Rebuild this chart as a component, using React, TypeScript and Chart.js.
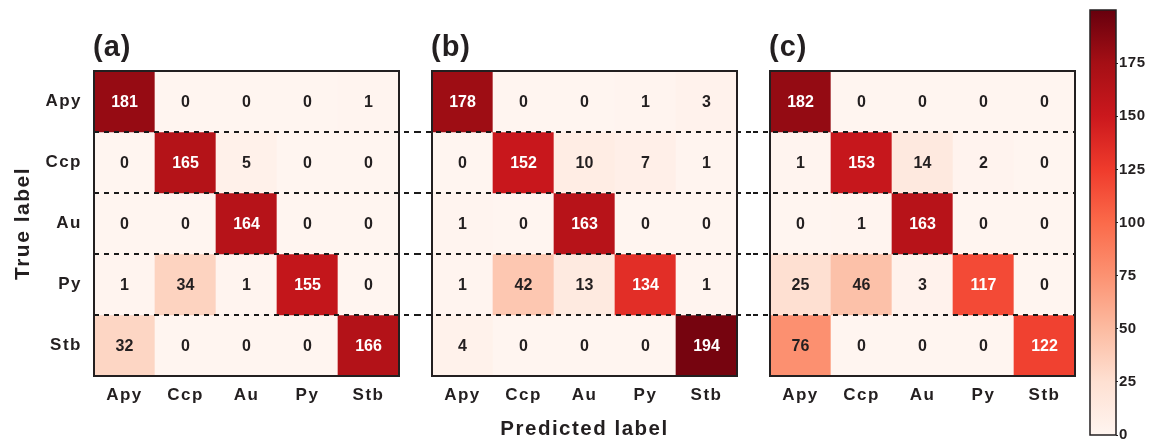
import React, { useEffect, useRef } from "react";
import { Chart, registerables } from "chart.js";

Chart.register(...registerables);

// ---------------- data ----------------
const predictedLabels = ["Apy", "Ccp", "Au", "Py", "Stb"];
const trueLabels = ["Apy", "Ccp", "Au", "Py", "Stb"];

const matrixA = [
  [181, 0, 0, 0, 1],
  [0, 165, 5, 0, 0],
  [0, 0, 164, 0, 0],
  [1, 34, 1, 155, 0],
  [32, 0, 0, 0, 166],
];
const matrixB = [
  [178, 0, 0, 1, 3],
  [0, 152, 10, 7, 1],
  [1, 0, 163, 0, 0],
  [1, 42, 13, 134, 1],
  [4, 0, 0, 0, 194],
];
const matrixC = [
  [182, 0, 0, 0, 0],
  [1, 153, 14, 2, 0],
  [0, 1, 163, 0, 0],
  [25, 46, 3, 117, 0],
  [76, 0, 0, 0, 122],
];
const panelTitles = ["(a)", "(b)", "(c)"];
const colorbarRange = [0, 200];
const colorbarTicks = [0, 25, 50, 75, 100, 125, 150, 175];
const whiteTextThreshold = 100;

// matplotlib "Reds"
const REDS = ["#fff5f0", "#fee0d2", "#fcbba1", "#fc9272", "#fb6a4a", "#ef3b2c", "#cb181d", "#a50f15", "#67000d"];
const TEXT = "#231f20";
const FONT = "'Liberation Sans', Arial, Helvetica, sans-serif";

Chart.defaults.font.family = FONT;
Chart.defaults.color = TEXT;

function hexToRgb(h: string) {
  const n = parseInt(h.slice(1), 16);
  return [(n >> 16) & 255, (n >> 8) & 255, n & 255];
}
function reds(t: number) {
  const c = Math.max(0, Math.min(1, t)) * (REDS.length - 1);
  const i = Math.min(REDS.length - 2, Math.floor(c));
  const f = c - i;
  const a = hexToRgb(REDS[i]);
  const b = hexToRgb(REDS[i + 1]);
  const m = a.map((v, k) => Math.round(v + (b[k] - v) * f));
  return `rgb(${m[0]},${m[1]},${m[2]})`;
}

type PanelProps = {
  matrix: number[][];
  title: string;
  showY: boolean;
  showXTitle: boolean;
  left: number;
  width: number;
  padLeft: number;
  padRight: number;
  dashFromChart: boolean;
  dashToChart: boolean;
};

const H = 445;

function Panel(p: PanelProps) {
  const ref = useRef<HTMLCanvasElement>(null);
  useEffect(() => {
    if (!ref.current) return;
    const n = trueLabels.length;
    const decor = {
      id: "decor",
      beforeDraw(chart: any) {
        chart.ctx.letterSpacing = "1.5px";
      },
      afterDatasetsDraw(chart: any) {
        const ctx = chart.ctx;
        ctx.save();
        ctx.letterSpacing = "0px";
        ctx.font = `bold 16px ${FONT}`;
        ctx.textAlign = "center";
        ctx.textBaseline = "middle";
        p.matrix.forEach((row, r) => {
          const meta = chart.getDatasetMeta(r);
          meta.data.forEach((bar: any, c: number) => {
            const { x, y, base } = bar.getProps(["x", "y", "base"], true);
            const v = row[c];
            ctx.fillStyle = v >= whiteTextThreshold ? "#ffffff" : TEXT;
            ctx.fillText(String(v), x, (y + base) / 2 + 1);
          });
        });
        ctx.restore();
      },
      afterDraw(chart: any) {
        const ctx = chart.ctx;
        const a = chart.chartArea;
        const ys = chart.scales.y;
        ctx.save();
        ctx.letterSpacing = "0px";
        // dashed row separators
        ctx.strokeStyle = "#1a1a1a";
        ctx.lineWidth = 2;
        ctx.setLineDash([5, 5]);
        const x0 = p.dashFromChart ? a.left : 0;
        const x1 = p.dashToChart ? a.right : chart.width;
        for (let k = 1; k < n; k++) {
          const y = Math.round(ys.getPixelForValue(k));
          ctx.beginPath();
          ctx.moveTo(x0, y);
          ctx.lineTo(x1, y);
          ctx.stroke();
        }
        ctx.setLineDash([]);
        // frame
        ctx.strokeStyle = TEXT;
        ctx.lineWidth = 2;
        ctx.strokeRect(a.left, a.top, a.right - a.left, a.bottom - a.top);
        // panel title
        ctx.letterSpacing = "1px";
        ctx.fillStyle = TEXT;
        ctx.font = `bold 29px ${FONT}`;
        ctx.textAlign = "left";
        ctx.textBaseline = "alphabetic";
        ctx.fillText(p.title, a.left - 1, 56);
        ctx.restore();
      },
    };

    const chart = new Chart(ref.current, {
      type: "bar",
      data: {
        labels: predictedLabels,
        datasets: p.matrix.map((row, r) => ({
          label: trueLabels[r],
          data: row.map(() => [n - 1 - r, n - r]),
          backgroundColor: row.map((v) => reds(v / colorbarRange[1])),
          borderWidth: 0,
          grouped: false,
          barPercentage: 1,
          categoryPercentage: 1,
        })) as any,
      },
      options: {
        responsive: false,
        animation: false,
        devicePixelRatio: 1,
        layout: { padding: { top: 71, left: p.padLeft, right: p.padRight, bottom: 0 } },
        plugins: { legend: { display: false }, tooltip: { enabled: false }, title: { display: false } },
        scales: {
          x: {
            type: "category",
            grid: { display: false, drawTicks: false },
            border: { display: false },
            ticks: { padding: 9, color: TEXT, font: { size: 17, weight: "bold" } },
            title: {
              display: p.showXTitle,
              text: "Predicted label",
              color: TEXT,
              font: { size: 20.5, weight: "bold" },
              padding: { top: 0, bottom: 3 },
            },
            afterFit: (s: any) => {
              s.height = 69;
            },
          },
          y: {
            type: "linear",
            display: p.showY,
            min: 0,
            max: n,
            grid: { display: false, drawTicks: false },
            border: { display: false },
            afterBuildTicks: (s: any) => {
              s.ticks = trueLabels.map((_, i) => ({ value: n - 0.5 - i }));
            },
            ticks: {
              padding: 12,
              color: TEXT,
              font: { size: 17, weight: "bold" },
              callback: (v: any) => trueLabels[Math.round(n - 0.5 - Number(v))],
            },
            title: {
              display: p.showY,
              text: "True label",
              color: TEXT,
              font: { size: 21, weight: "bold" },
              padding: { top: 11, bottom: 0 },
            },
            afterFit: (s: any) => {
              if (p.showY) s.width = 94;
            },
          },
        },
      } as any,
      plugins: [decor],
    });
    return () => chart.destroy();
  }, []);
  return (
    <canvas
      ref={ref}
      width={p.width}
      height={H}
      style={{ position: "absolute", left: p.left, top: 0, width: p.width, height: H }}
    />
  );
}

function Colorbar({ left, width }: { left: number; width: number }) {
  const ref = useRef<HTMLCanvasElement>(null);
  useEffect(() => {
    if (!ref.current) return;
    const frame = {
      id: "cbframe",
      beforeDraw(chart: any) {
        chart.ctx.letterSpacing = "0.5px";
      },
      afterDraw(chart: any) {
        const ctx = chart.ctx;
        const a = chart.chartArea;
        ctx.save();
        ctx.strokeStyle = TEXT;
        ctx.lineWidth = 1.5;
        ctx.strokeRect(a.left, a.top, a.right - a.left, a.bottom - a.top);
        ctx.restore();
      },
    };
    const chart = new Chart(ref.current, {
      type: "bar",
      data: {
        labels: ["scale"],
        datasets: [
          {
            data: [colorbarRange] as any,
            backgroundColor: (c: any) => {
              const ch = c.chart;
              if (!ch.chartArea) return REDS[4];
              const ys = ch.scales.y;
              const g = ch.ctx.createLinearGradient(
                0,
                ys.getPixelForValue(colorbarRange[0]),
                0,
                ys.getPixelForValue(colorbarRange[1])
              );
              REDS.forEach((col, i) => g.addColorStop(i / (REDS.length - 1), col));
              return g;
            },
            borderWidth: 0,
            barPercentage: 1,
            categoryPercentage: 1,
          },
        ],
      },
      options: {
        responsive: false,
        animation: false,
        devicePixelRatio: 1,
        layout: { padding: { top: 5, bottom: 6, left: 10, right: 0 } },
        plugins: { legend: { display: false }, tooltip: { enabled: false } },
        scales: {
          x: { display: false },
          y: {
            position: "right",
            min: colorbarRange[0],
            max: colorbarRange[1],
            afterBuildTicks: (s: any) => {
              s.ticks = colorbarTicks.map((v) => ({ value: v }));
            },
            grid: { drawOnChartArea: false, drawTicks: true, tickLength: 2, color: TEXT, lineWidth: 1 },
            border: { display: false },
            ticks: { padding: 1, color: TEXT, font: { size: 15, weight: "bold" } },
            afterFit: (s: any) => {
              s.width = 33;
            },
          },
        },
      } as any,
      plugins: [frame],
    });
    return () => chart.destroy();
  }, []);
  return (
    <canvas
      ref={ref}
      width={width}
      height={H}
      style={{ position: "absolute", left, top: 0, width, height: H }}
    />
  );
}

export default function App() {
  return (
    <div style={{ position: "absolute", left: 0, top: 0, width: 1149, height: H, background: "#ffffff", overflow: "hidden" }}>
      <Panel matrix={matrixA} title={panelTitles[0]} showY={true} showXTitle={false} left={0} width={416} padLeft={0} padRight={17} dashFromChart={true} dashToChart={false} />
      <Panel matrix={matrixB} title={panelTitles[1]} showY={false} showXTitle={true} left={416} width={337} padLeft={16} padRight={16} dashFromChart={false} dashToChart={false} />
      <Panel matrix={matrixC} title={panelTitles[2]} showY={false} showXTitle={false} left={753} width={327} padLeft={17} padRight={5} dashFromChart={false} dashToChart={true} />
      <Colorbar left={1080} width={69} />
    </div>
  );
}
